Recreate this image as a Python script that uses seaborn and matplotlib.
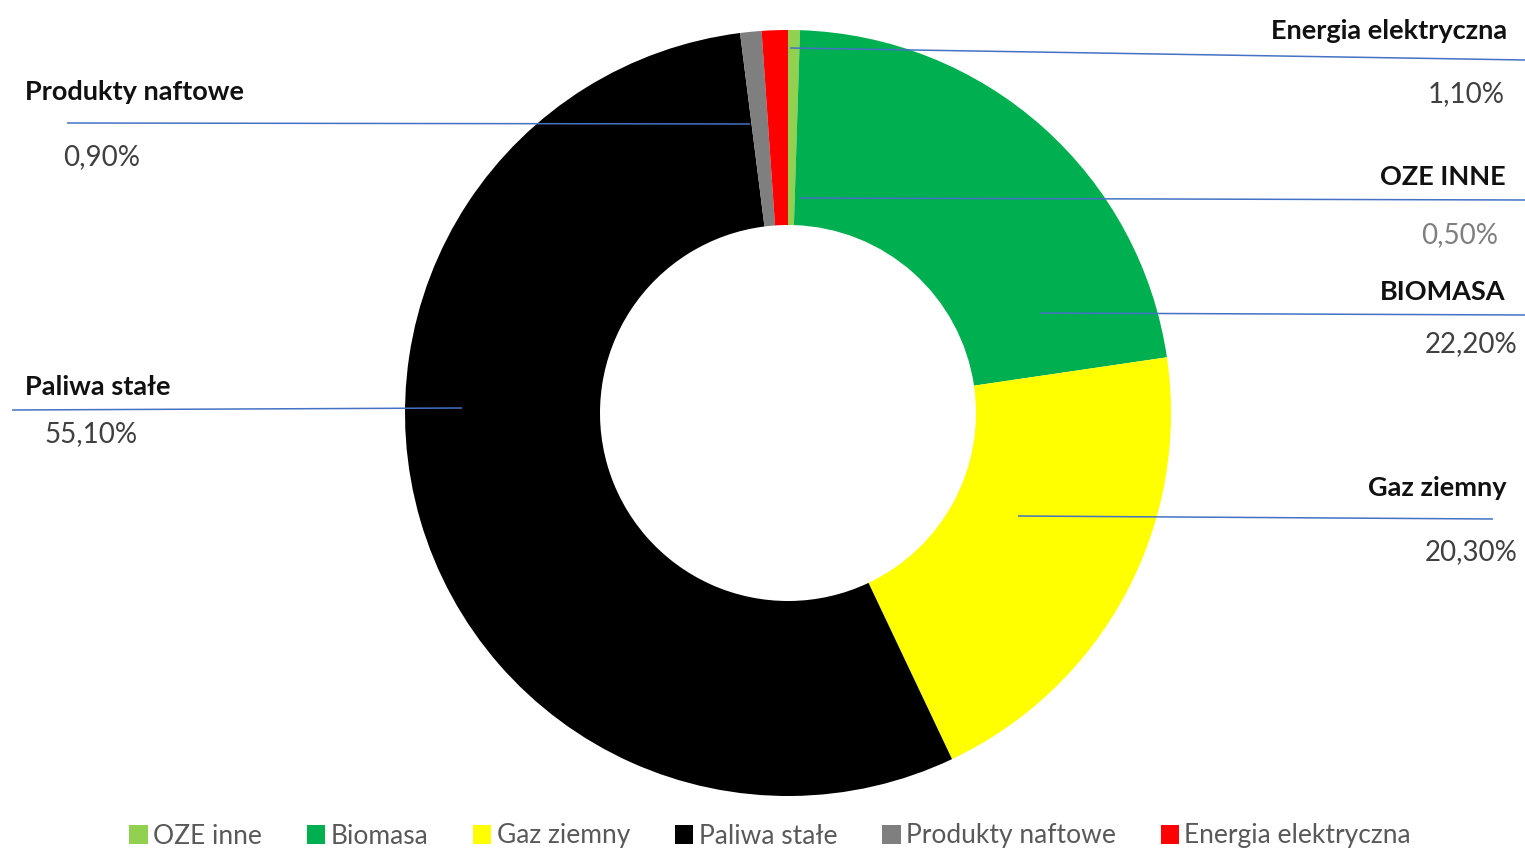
import matplotlib.pyplot as plt
import seaborn as sns

sns.set_theme(style="white")
plt.rcParams['font.family'] = ['Lato', 'DejaVu Sans']

############
# Data
############
categories = ['OZE inne', 'Biomasa', 'Gaz ziemny', 'Paliwa stałe', 'Produkty naftowe', 'Energia elektryczna']
shares = [0.5, 22.2, 20.3, 55.1, 0.9, 1.1]
label_names = ['OZE INNE', 'BIOMASA', 'Gaz ziemny', 'Paliwa stałe', 'Produkty naftowe', 'Energia elektryczna']
colors = ['#92D050', '#00B050', '#FFFF00', '#000000', '#7F7F7F', '#FF0000']

############
# Layout (pixels, y down)
############
W, H = 1525, 850
CENTER = (788, 413)
R_OUT, R_IN = 383, 188
LINE_COLOR = '#4472C4'

# name position, value position, alignment, leader line (x0, y0, x1, y1), value colour
label_layout = {
    'OZE inne': ((1506, 177), (1498, 235), 'right', (800, 198, 1525, 200), '#7F7F7F'),
    'Biomasa': ((1505, 292), (1518, 344), 'right', (1040, 313, 1525, 315), '#404040'),
    'Gaz ziemny': ((1506, 488), (1518, 552), 'right', (1018, 516, 1493, 519), '#404040'),
    'Paliwa stałe': ((25, 387), (44, 434), 'left', (462, 408, 12, 410), '#404040'),
    'Produkty naftowe': ((25, 92), (63, 157), 'left', (750, 124, 67, 123), '#404040'),
    'Energia elektryczna': ((1507, 31), (1505, 94), 'right', (790, 48, 1525, 60), '#404040'),
}

fig = plt.figure(figsize=(W / 100, H / 100), dpi=100)
ax = fig.add_axes([0, 0, 1, 1])

# y axis is inverted -> startangle -90 with counterclock draws clockwise from the top
wedges, _ = ax.pie(shares, colors=colors, center=CENTER, radius=R_OUT, startangle=-90,
                   counterclock=True, wedgeprops=dict(width=R_OUT - R_IN, linewidth=0),
                   frame=True)
ax.set_xlim(0, W)
ax.set_ylim(H, 0)
ax.set_aspect('equal')
ax.axis('off')

for cat, name, val in zip(categories, label_names, shares):
    (nx, ny), (vx, vy), ha, (x0, y0, x1, y1), vcol = label_layout[cat]
    ax.plot([x0, x1], [y0, y1], color=LINE_COLOR, lw=1.1, solid_capstyle='butt')
    ax.text(nx, ny, name, ha=ha, va='center', fontsize=19.5, fontweight='bold', color='#111111')
    ax.text(vx, vy, f'{val:.2f}'.replace('.', ',') + '%', ha=ha, va='center',
            fontsize=20, color=vcol)

fig.legend(wedges, categories, loc='center', bbox_to_anchor=(770 / W, 1 - 836 / H), ncol=6,
           frameon=False, fontsize=19, handlelength=0.7, handleheight=0.7,
           handletextpad=0.2, columnspacing=1.7, labelcolor='#595959')

fig.savefig('out.png', dpi=100)
